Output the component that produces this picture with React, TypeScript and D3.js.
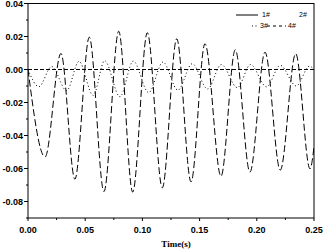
import React from "react";
import * as d3 from "d3";

const W = 324;
const H = 249;

// Series 4# (large dashed oscillation): extrema
const bigT = [0, 0.0149, 0.0288, 0.041, 0.0536, 0.0664, 0.0793, 0.0915, 0.1043, 0.1174, 0.13, 0.1425, 0.1547, 0.1687, 0.1812, 0.194, 0.2072, 0.2205, 0.234, 0.2465, 0.25];
const bigV = [0, -0.053, 0.0097, -0.0665, 0.0196, -0.074, 0.0232, -0.0743, 0.0223, -0.0717, 0.0186, -0.0681, 0.0156, -0.0647, 0.012, -0.0622, 0.0105, -0.061, 0.0096, -0.0602, -0.047];

// Series 3# (small dotted oscillation)
const smallT = [0, 0.0095, 0.0207, 0.0338, 0.0446, 0.057, 0.067, 0.0804, 0.092, 0.1055, 0.118, 0.131, 0.1435, 0.157, 0.169, 0.183, 0.1945, 0.2085, 0.2205, 0.2345, 0.246, 0.25];
const smallV = [0, -0.0104, 0.0018, -0.0128, 0.0049, -0.0157, 0.0053, -0.0165, 0.0051, -0.014, 0.0045, -0.0125, 0.0035, -0.0118, 0.003, -0.011, 0.003, -0.0105, 0.0025, -0.01, 0.002, 0.0];

// Series along zero
const zeroT = [0, 0.25];
const zeroV = [0, 0];

const xTicks = [0, 0.05, 0.1, 0.15, 0.2, 0.25];
const xMinor = [0.025, 0.075, 0.125, 0.175, 0.225];
const yTicks = [0.04, 0.02, 0, -0.02, -0.04, -0.06, -0.08];
const yMinor = [0.03, 0.01, -0.01, -0.03, -0.05, -0.07, -0.09];
const legendLabels = ["1#", "2#", "3#", "4#"];

export default function App() {
  const left = 28, right = 314, top = 3.5, bottom = 218;
  const x = d3.scaleLinear().domain([0, 0.25]).range([left, right]);
  const y = d3.scaleLinear().domain([-0.09, 0.04]).range([bottom, top]);
  const line = d3
    .line<[number, number]>()
    .x((d) => x(d[0]))
    .y((d) => y(d[1]))
    .curve(d3.curveMonotoneX);
  const pts = (t: number[], v: number[]) => t.map((tt, i) => [tt, v[i]] as [number, number]);
  const tickFont = "Liberation Sans, Arial, sans-serif";
  return (
    <svg width={W} height={H} style={{ position: "absolute", left: 0, top: 0, background: "#fff" }}>
      <rect x={0} y={0} width={W} height={H} fill="#fff" />
      <defs>
        <clipPath id="plot">
          <rect x={left} y={top} width={right - left} height={bottom - top} />
        </clipPath>
      </defs>
      <g clipPath="url(#plot)" fill="none" stroke="#000" strokeWidth={1}>
        <path d={line(pts(zeroT, zeroV)) || ""} strokeDasharray="4,2" />
        <path d={line(pts(smallT, smallV)) || ""} strokeDasharray="1,2.5" />
        <path d={line(pts(bigT, bigV)) || ""} strokeDasharray="7,3" />
      </g>
      <rect x={left} y={top} width={right - left} height={bottom - top} fill="none" stroke="#000" strokeWidth={1} />
      {yTicks.map((t) => (
        <g key={"y" + t}>
          <line x1={left - 4} x2={left} y1={y(t)} y2={y(t)} stroke="#000" />
          <text x={left - 5} y={y(t) + 3} textAnchor="end" fontSize={9} fontWeight="bold" fontFamily={tickFont}>
            {d3.format(".2f")(t).replace("−", "-")}
          </text>
        </g>
      ))}
      {yMinor.map((t) => (
        <line key={"ym" + t} x1={left - 2} x2={left} y1={y(t)} y2={y(t)} stroke="#000" />
      ))}
      {xTicks.map((t) => (
        <g key={"x" + t}>
          <line x1={x(t)} x2={x(t)} y1={bottom} y2={bottom + 3} stroke="#000" />
          <text x={x(t)} y={bottom + 15} textAnchor="middle" fontSize={9} fontWeight="bold" fontFamily={tickFont}>
            {d3.format(".2f")(t)}
          </text>
        </g>
      ))}
      {xMinor.map((t) => (
        <line key={"xm" + t} x1={x(t)} x2={x(t)} y1={bottom} y2={bottom + 2} stroke="#000" />
      ))}
      <text x={176} y={247} textAnchor="middle" fontSize={9} fontWeight="bold" fontFamily="Liberation Serif, Times New Roman, serif">
        Time(s)
      </text>
      <g fontSize={7} fontFamily={tickFont}>
        <line x1={236} x2={258} y1={15} y2={15} stroke="#000" />
        <text x={262} y={17}>{legendLabels[0]}</text>
        <text x={299} y={17}>{legendLabels[1]}</text>
        <line x1={252} x2={258} y1={26} y2={26} stroke="#000" strokeDasharray="1,2.5" />
        <text x={260} y={28}>{legendLabels[2]}</text>
        <line x1={267} x2={286} y1={26} y2={26} stroke="#000" strokeDasharray="3,3" />
        <text x={288} y={28}>{legendLabels[3]}</text>
      </g>
    </svg>
  );
}
